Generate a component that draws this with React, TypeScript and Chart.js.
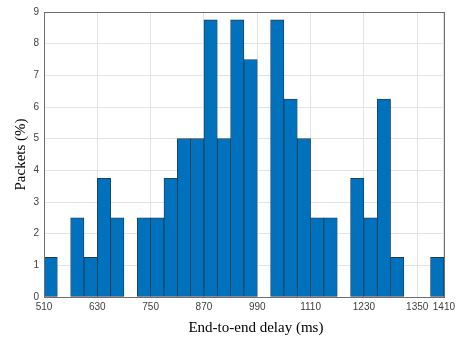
import React, { useEffect, useRef } from "react";
import { Chart, registerables } from "chart.js";

Chart.register(...registerables);

const binStarts = [510, 540, 570, 600, 630, 660, 690, 720, 750, 780, 810, 840, 870, 900, 930, 960, 990, 1020, 1050, 1080, 1110, 1140, 1170, 1200, 1230, 1260, 1290, 1320, 1350, 1380];
const binWidth = 30;
const packetsPct = [1.25, 0, 2.5, 1.25, 3.75, 2.5, 0, 2.5, 2.5, 3.75, 5, 5, 8.75, 5, 8.75, 7.5, 0, 8.75, 6.25, 5, 2.5, 2.5, 0, 3.75, 2.5, 6.25, 1.25, 0, 0, 1.25];
const xTicks = [510, 630, 750, 870, 990, 1110, 1230, 1350, 1410];
const yTicks = [0, 1, 2, 3, 4, 5, 6, 7, 8, 9];
const xTitle = "End-to-end delay (ms)";
const yTitle = "Packets (%)";

const boxPlugin = {
  id: "boxOutline",
  afterDatasetsDraw(chart: any) {
    const { ctx, chartArea } = chart;
    ctx.save();
    ctx.strokeStyle = "#6e6e6e";
    ctx.lineWidth = 1;
    ctx.strokeRect(Math.round(chartArea.left) + 0.5, Math.round(chartArea.top) + 0.5, Math.round(chartArea.right - chartArea.left), Math.round(chartArea.bottom - chartArea.top));
    ctx.restore();
  },
  afterDraw(chart: any) {
    const { ctx, chartArea } = chart;
    ctx.save();
    ctx.fillStyle = "#000";
    ctx.font = "15px 'Liberation Serif'";
    ctx.textAlign = "center";
    ctx.textBaseline = "middle";
    ctx.fillText(xTitle, (chartArea.left + chartArea.right) / 2 + 12, 328);
    ctx.restore();
  },
};

export default function App() {
  const ref = useRef<HTMLCanvasElement>(null);
  useEffect(() => {
    document.body.style.margin = "0";
    const data = binStarts.map((s, i) => ({ x: s + binWidth / 2, y: packetsPct[i] }));
    const chart = new Chart(ref.current!, {
      type: "bar",
      data: {
        datasets: [
          {
            data: data as any,
            backgroundColor: "#0072BD",
            borderColor: "#21364f",
            borderWidth: 0.8,
            borderSkipped: false,
            barPercentage: 1,
            categoryPercentage: 1,
          },
        ],
      },
      options: {
        animation: false,
        responsive: false,
        layout: { padding: { top: 12, right: 13, left: 0, bottom: 0 } },
        plugins: { legend: { display: false }, tooltip: { enabled: false } },
        scales: {
          x: {
            type: "linear",
            min: 510,
            max: 1410,
            offset: false,
            grid: { color: "#e3e3e3", drawTicks: false, offset: false },
            border: { display: false },
            afterBuildTicks: (s: any) => {
              s.ticks = xTicks.map((v) => ({ value: v }));
            },
            afterFit: (s: any) => {
              s.height = 40;
            },
            ticks: {
              autoSkip: false,
              maxRotation: 0,
              padding: 4,
              color: "#404040",
              font: { family: "Liberation Sans", size: 10 },
              callback: (v: any) => String(v),
            },
            title: { display: false, text: xTitle },
          },
          y: {
            min: 0,
            max: 9,
            grid: { color: "#e3e3e3", drawTicks: false },
            border: { display: false },
            afterBuildTicks: (s: any) => {
              s.ticks = yTicks.map((v) => ({ value: v }));
            },
            afterFit: (s: any) => {
              s.width = 44;
            },
            ticks: {
              padding: 5,
              color: "#404040",
              font: { family: "Liberation Sans", size: 10 },
            },
            title: {
              display: true,
              text: yTitle,
              color: "#000",
              font: { family: "Liberation Serif", size: 15 },
              padding: { top: 12, bottom: 0 },
            },
          },
        },
      },
      plugins: [boxPlugin],
    });
    return () => chart.destroy();
  }, []);
  return (
    <div style={{ width: 459, height: 337 }}>
      <canvas ref={ref} width={459} height={337} style={{ display: "block" }} />
    </div>
  );
}
